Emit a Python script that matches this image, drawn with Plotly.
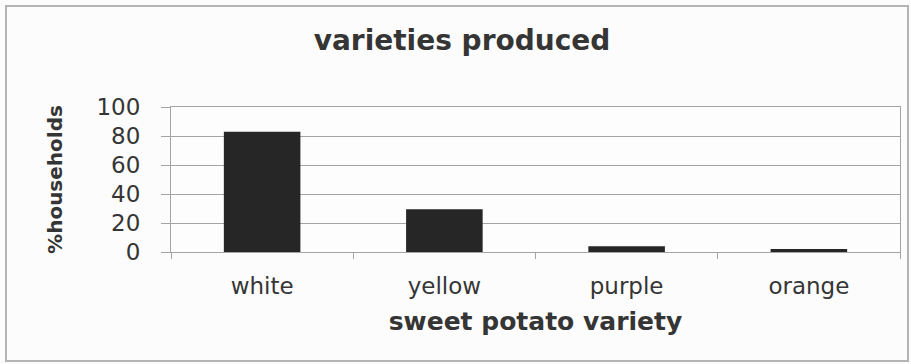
import plotly.graph_objects as go

# Share of households producing each sweet potato variety (%)
varieties = ["white", "yellow", "purple", "orange"]
pct_households = [83, 29.5, 4, 2]
y_ticks = [0, 20, 40, 60, 80, 100]

W, H = 911, 364
ML, MR, MT, MB = 171, 11, 107, 112
plot_w = W - ML - MR
plot_h = H - MT - MB

text_col = "#353535"
grid_col = "#a4a4a4"
font_family = "DejaVu Sans, Liberation Sans, Arial, sans-serif"

fig = go.Figure(
    go.Bar(
        x=varieties,
        y=pct_households,
        marker=dict(color="#262626", line=dict(width=0)),
        width=0.42,
        hoverinfo="x+y",
    )
)

# outer chart-area frame, expressed in paper coordinates
def px_to_paper_x(px):
    return (px - ML) / plot_w

def px_to_paper_y(py):
    return (H - MB - py) / plot_h

fig.add_shape(
    type="rect", xref="paper", yref="paper",
    x0=px_to_paper_x(6), x1=px_to_paper_x(908),
    y0=px_to_paper_y(361), y1=px_to_paper_y(6),
    line=dict(color="#b4b4b4", width=2), fillcolor="rgba(0,0,0,0)",
    layer="below",
)

fig.update_layout(
    width=W, height=H,
    margin=dict(l=ML, r=MR, t=MT, b=MB, autoexpand=False),
    paper_bgcolor="#fcfcfc",
    plot_bgcolor="#fdfdfd",
    showlegend=False,
    font=dict(family=font_family, color=text_col),
    title=dict(
        text="<b>varieties produced</b>",
        x=462 / W, xref="container", xanchor="center",
        y=1 - 40 / H, yref="container", yanchor="middle",
        font=dict(size=28, color=text_col),
    ),
    bargap=0.58,
)

fig.update_xaxes(
    type="category",
    showgrid=False,
    showline=True, linecolor=grid_col, linewidth=1, mirror=True,
    ticks="outside", tickson="boundaries", ticklen=6, tickcolor=grid_col,
    tickfont=dict(size=23, color=text_col),
    ticklabelstandoff=13,
    title=dict(text="<b>sweet potato variety</b>", font=dict(size=25, color=text_col), standoff=14),
)

fig.update_yaxes(
    range=[0, 100],
    tickvals=y_ticks,
    showgrid=True, gridcolor=grid_col, gridwidth=1,
    showline=True, linecolor=grid_col, linewidth=1, mirror=True,
    ticks="outside", ticklen=9, tickcolor=grid_col,
    tickfont=dict(size=23, color=text_col),
    ticklabelstandoff=16,
    zeroline=False,
    title=dict(text="<b>%households</b>", font=dict(size=20, color=text_col), standoff=28),
)

fig.write_html("out.html")
